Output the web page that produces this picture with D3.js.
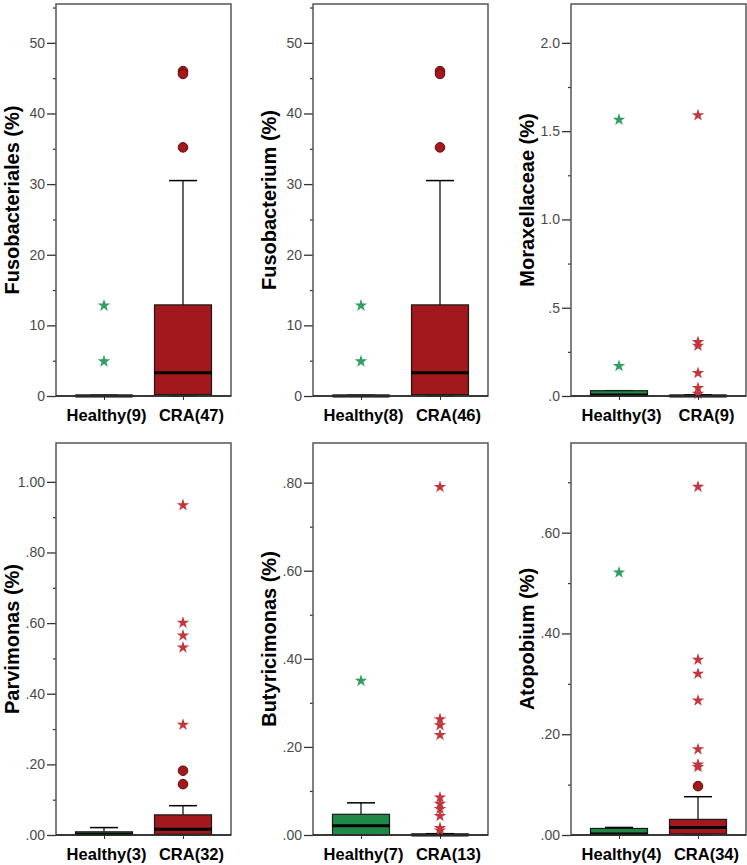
<!DOCTYPE html>
<html><head><meta charset="utf-8">
<script src="https://cdn.jsdelivr.net/npm/d3@7"></script>
<style>body{margin:0;background:#fff}svg{display:block}</style>
</head><body>
<script>
// ---- data ----
const yTitles = ["Fusobacteriales (%)", "Fusobacterium (%)", "Moraxellaceae (%)", "Parvimonas (%)", "Butyricimonas (%)", "Atopobium (%)"];
const healthyLabels = ["Healthy(9)", "Healthy(8)", "Healthy(3)", "Healthy(3)", "Healthy(7)", "Healthy(4)"];
const craLabels = ["CRA(47)", "CRA(46)", "CRA(9)", "CRA(32)", "CRA(13)", "CRA(34)"];
const yMax = [55.5, 55.5, 2.22, 1.11, 0.89, 0.778];
const majorTicks = [[0,10,20,30,40,50],[0,10,20,30,40,50],[0,0.5,1,1.5,2],[0,0.2,0.4,0.6,0.8,1.0],[0,0.2,0.4,0.6,0.8],[0,0.2,0.4,0.6]];
const majorTickLabels = [["0","10","20","30","40","50"],["0","10","20","30","40","50"],[".0",".5","1.0","1.5","2.0"],[".00",".20",".40",".60",".80","1.00"],[".00",".20",".40",".60",".80"],[".00",".20",".40",".60"]];
const minorTicks = [[5,15,25,35,45,55],[5,15,25,35,45,55],[0.25,0.75,1.25,1.75],[0.1,0.3,0.5,0.7,0.9],[0.1,0.3,0.5,0.7],[0.1,0.3,0.5,0.7]];
// box stats: [min, q1, median, q3, max]
const healthyBox = [[0,0,0,0.1,0.1],[0,0,0,0.1,0.1],[0,0,0.005,0.03,0.03],[0,0,0.002,0.009,0.021],[0,0,0.021,0.047,0.073],[0,0,0.002,0.013,0.015]];
const craBox = [[0,0.2,3.3,12.9,30.5],[0,0.2,3.3,12.9,30.5],[0,0,0,0.004,0.006],[0,0.002,0.016,0.057,0.083],[0,0,0,0.002,0.003],[0,0.002,0.015,0.031,0.076]];
const healthyStars = [[12.8,4.9],[12.8,4.9],[1.565,0.17],[],[0.35],[0.521]];
const healthyCircles = [[],[],[],[],[],[]];
const craStars = [[],[],[1.59,0.305,0.285,0.13,0.045,0.012],[0.934,0.601,0.565,0.531,0.312],[0.79,0.263,0.249,0.227,0.085,0.071,0.059,0.043,0.016,0.01],[0.691,0.348,0.32,0.267,0.17,0.14,0.135]];
const craCircles = [[46.0,45.6,35.2],[46.0,45.6,35.2],[],[0.182,0.144],[],[0.097]];
const groups = ["Healthy","CRA"];

// ---- style ----
const W = 747, H = 865;
const colLeft = [56, 313, 571];
const rowTop = [4, 443];
const pw = 175, ph = 392;
const boxFill = {Healthy:"#1f8a47", CRA:"#a2181d"};
const starFill = {Healthy:"#2f9e5f", CRA:"#c2363e"};
const circleFill = "#a3181b", circleStroke = "#5e0c0c";
const labelShift = {Healthy: 2, CRA: 8};

const svg = d3.select("body").append("svg").attr("width", W).attr("height", H)
  .style("font-family", "Arial, 'Liberation Sans', sans-serif");

for (let i = 0; i < 6; i++) {
  const left = colLeft[i % 3], top = rowTop[Math.floor(i / 3)];
  const g = svg.append("g").attr("transform", `translate(${left},${top})`);
  const y = d3.scaleLinear().domain([0, yMax[i]]).range([ph, 0]);
  const x = d3.scalePoint().domain(groups).range([48, 127]);

  // minor ticks
  const minorAxis = d3.axisLeft(y).tickValues(minorTicks[i]).tickSize(3).tickFormat("");
  g.append("g").call(minorAxis).call(a => { a.select(".domain").remove(); a.selectAll("line").attr("stroke","#333").attr("stroke-width",1.2); });
  // major ticks
  const majorAxis = d3.axisLeft(y).tickValues(majorTicks[i]).tickSize(9).tickPadding(2)
    .tickFormat((d, k) => majorTickLabels[i][k]);
  g.append("g").call(majorAxis).call(a => {
    a.select(".domain").remove();
    a.selectAll("line").attr("stroke","#333").attr("stroke-width",1.3);
    a.selectAll("text").attr("font-size", 14).attr("fill", "#4a4a4a");
  });
  // x axis
  const xAxis = d3.axisBottom(x).tickSize(4).tickPadding(9);
  g.append("g").attr("transform", `translate(0,${ph})`).call(xAxis).call(a => {
    a.select(".domain").remove();
    a.selectAll("line").attr("stroke","#333");
    a.selectAll("text").text((d) => d === "Healthy" ? healthyLabels[i] : craLabels[i])
      .attr("x", d => labelShift[d])
      .attr("font-size", 16.5).attr("font-weight", "bold").attr("fill", "#000").attr("dy", "0.71em");
  });

  // boxes
  const boxW = 57, capW = 28;
  const stats = {Healthy: healthyBox[i], CRA: craBox[i]};
  groups.forEach(grp => {
    const [mn, q1, md, q3, mx] = stats[grp];
    const cx = x(grp);
    const bg = g.append("g");
    bg.append("line").attr("x1", cx).attr("x2", cx).attr("y1", y(q3)).attr("y2", y(mx)).attr("stroke", "#000").attr("stroke-width", 1.2);
    bg.append("line").attr("x1", cx - capW/2).attr("x2", cx + capW/2).attr("y1", y(mx)).attr("y2", y(mx)).attr("stroke", "#000").attr("stroke-width", 1.5);
    bg.append("line").attr("x1", cx).attr("x2", cx).attr("y1", y(q1)).attr("y2", y(mn)).attr("stroke", "#000").attr("stroke-width", 1.2);
    bg.append("line").attr("x1", cx - capW/2).attr("x2", cx + capW/2).attr("y1", y(mn)).attr("y2", y(mn)).attr("stroke", "#000").attr("stroke-width", 1.2);
    bg.append("rect").attr("x", cx - boxW/2).attr("width", boxW)
      .attr("y", y(q3)).attr("height", Math.max(0, y(q1) - y(q3)))
      .attr("fill", boxFill[grp]).attr("stroke", "#1a1a1a").attr("stroke-width", 1.2);
    bg.append("line").attr("x1", cx - boxW/2).attr("x2", cx + boxW/2).attr("y1", y(md)).attr("y2", y(md)).attr("stroke", "#000").attr("stroke-width", 3);
  });

  // outliers
  const star = d3.symbol().type(d3.symbolStar).size(48);
  const circ = {Healthy: healthyCircles[i], CRA: craCircles[i]};
  const stars = {Healthy: healthyStars[i], CRA: craStars[i]};
  groups.forEach(grp => {
    g.selectAll(null).data(circ[grp]).enter().append("circle")
      .attr("cx", x(grp)).attr("cy", d => y(d)).attr("r", 4.8)
      .attr("fill", circleFill).attr("stroke", circleStroke).attr("stroke-width", 1);
    g.selectAll(null).data(stars[grp]).enter().append("path")
      .attr("d", star).attr("transform", d => `translate(${x(grp)},${y(d)})`)
      .attr("fill", starFill[grp]);
  });

  // frame
  g.append("rect").attr("x", 0).attr("y", 0).attr("width", pw).attr("height", ph)
    .attr("fill", "none").attr("stroke", "#555").attr("stroke-width", 1.5);
  g.append("line").attr("x1", 0).attr("x2", pw).attr("y1", ph).attr("y2", ph).attr("stroke", "#222").attr("stroke-width", 1.6);

  // y title
  g.append("text").attr("transform", `translate(${-37},${ph/2}) rotate(-90)`)
    .attr("text-anchor", "middle").attr("font-size", 20).attr("font-weight", "bold")
    .attr("fill", "#000").text(yTitles[i]);
}
</script>
</body></html>
